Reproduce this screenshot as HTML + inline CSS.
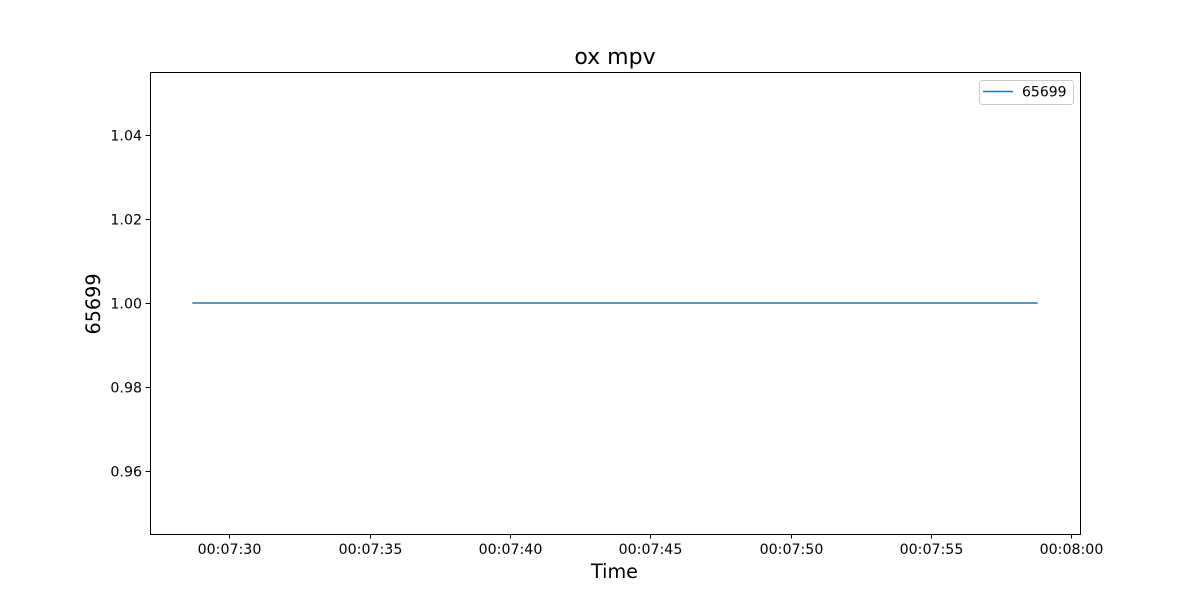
<!DOCTYPE html>
<html><head><meta charset="utf-8"><style>
body{margin:0;background:#fff;}
svg text{font-family:"DejaVu Sans","Liberation Sans",sans-serif;}
</style></head><body>
<svg id="chart" width="1200" height="600" xmlns="http://www.w3.org/2000/svg">
<rect width="1200" height="600" fill="#fff"/>
<text x="615" y="64" font-size="22" text-anchor="middle">ox mpv</text>
<g id="xticks"></g>
<g id="yticks"></g>
<g id="series"></g>
<rect x="150.5" y="72.5" width="930" height="462" fill="none" stroke="#000" stroke-width="1"/>
<text x="614.5" y="578" font-size="19.2" text-anchor="middle">Time</text>
<text transform="translate(100,304) rotate(-90)" font-size="19.2" text-anchor="middle">65699</text>
<g>
<rect x="979.5" y="80.5" width="94" height="24" rx="3" fill="#fff" stroke="#ccc"/>
<line x1="983" y1="91.5" x2="1013" y2="91.5" stroke="#1f77b4" stroke-width="1.5"/>
<text x="1022" y="96.5" font-size="14">65699</text>
</g>
</svg>
<script>
// time in seconds since 00:00:00
const times = [448.65, 478.77];
const values = [1, 1];
const xTickSecs = [450, 455, 460, 465, 470, 475, 480];
const xTickLabels = ["00:07:30","00:07:35","00:07:40","00:07:45","00:07:50","00:07:55","00:08:00"];
const yTicks = [0.96, 0.98, 1.00, 1.02, 1.04];
const yTickLabels = ["0.96","0.98","1.00","1.02","1.04"];

const NS="http://www.w3.org/2000/svg";
const L=150,R=1080,T=72,B=534;
const xmin=447.14,xmax=480.28,ymin=0.945,ymax=1.055;
function xs(v){return L+(v-xmin)/(xmax-xmin)*(R-L);}
function ys(v){return B-(v-ymin)/(ymax-ymin)*(B-T);}
function mk(tag,attrs,parent){const e=document.createElementNS(NS,tag);for(const k in attrs)e.setAttribute(k,attrs[k]);parent.appendChild(e);return e;}
const gx=document.getElementById('xticks'),gy=document.getElementById('yticks'),gs=document.getElementById('series');
xTickSecs.forEach((s,i)=>{
  const x=Math.round(xs(s))-0.5;
  const t=mk('line',{x1:x,y1:B,x2:x,y2:B+4.5,stroke:'#000'},gx);
  
  
  const tx=mk('text',{x:x,y:B+20,'font-size':14.2,'text-anchor':'middle'},gx);
  tx.textContent=xTickLabels[i];
  
  
});
yTicks.forEach((v,i)=>{
  const y=Math.round(ys(v))+0.5;
  const t=mk('line',{x1:L-4.5,y1:y,x2:L,y2:y,stroke:'#000'},gy);
  
  
  const tx=mk('text',{x:L-8,y:y+5,'font-size':14.2,'text-anchor':'end'},gy);
  tx.textContent=yTickLabels[i];
  
  
});
const pts=times.map((t,i)=>xs(t)+','+ys(values[i])).join(' ');
const pl=mk('polyline',{points:pts,fill:'none',stroke:'#1f77b4','stroke-width':1.5},gs);


</script>
</body></html>
